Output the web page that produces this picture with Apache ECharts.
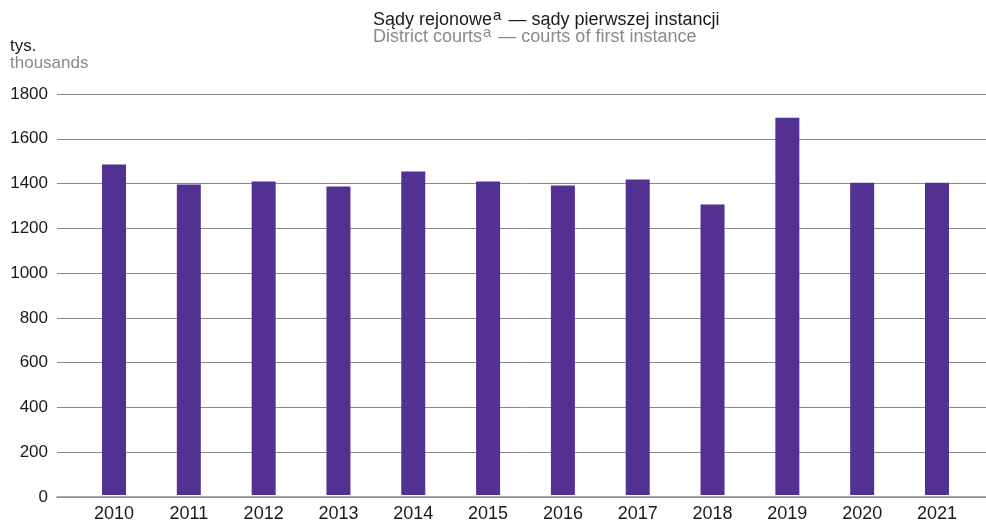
<!DOCTYPE html>
<html><head><meta charset="utf-8">
<script src="https://cdn.jsdelivr.net/npm/echarts@6/dist/echarts.min.js"></script>
<style>html,body{margin:0;padding:0;background:#fff}#c{width:986px;height:523px}</style>
</head><body><div id="c"></div>
<script>
const years = ['2010','2011','2012','2013','2014','2015','2016','2017','2018','2019','2020','2021'];
const cases = [1483, 1394, 1407, 1385, 1452, 1407, 1389, 1416, 1304, 1693, 1402, 1402];
const yMin = 0, yMax = 1800, yStep = 200;
const titlePl = 'Sądy rejonowe', titlePl2 = ' — sądy pierwszej instancji';
const titleEn = 'District courts', titleEn2 = ' — courts of first instance';
const unitPl = 'tys.', unitEn = 'thousands';

const FONT = '"Liberation Sans", Arial, sans-serif';
const chart = echarts.init(document.getElementById('c'), null, {renderer:'canvas'});
const gTop = 94, gBottom = 523 - 497;
const base = {fontFamily: FONT, fontWeight: 'normal'};
chart.setOption({
  animation: false,
  textStyle: {fontFamily: FONT},
  title: {
    left: 373, top: 12, padding: 0,
    text: '{t|' + titlePl + '}{s|a}{t|' + titlePl2 + '}\n{g|' + titleEn + '}{gs|a}{g|' + titleEn2 + '}',
    textStyle: {
      fontWeight: 'normal',
      rich: {
        t: Object.assign({fontSize: 18, color: '#1a1a1a', lineHeight: 17, verticalAlign:'bottom'}, base),
        s: Object.assign({fontSize: 15, color: '#1a1a1a', lineHeight: 15, verticalAlign: 'bottom', padding:[0,2,6,1]}, base),
        g: Object.assign({fontSize: 18, color: '#8a8a8a', lineHeight: 17, verticalAlign:'bottom'}, base),
        gs: Object.assign({fontSize: 15, color: '#8a8a8a', lineHeight: 15, verticalAlign: 'bottom', padding:[0,2,6,1]}, base)
      }
    }
  },
  graphic: [
    {type:'text', left: 10, top: 38, style:{text: unitPl, fontSize: 17, fill:'#1a1a1a', fontFamily: FONT}},
    {type:'text', left: 10, top: 55, style:{text: unitEn, fontSize: 17, fill:'#8a8a8a', fontFamily: FONT}}
  ],
  grid: [
    {left: 57, right: 0, top: gTop, bottom: gBottom, containLabel: false},
    {left: 76.6, right: 986 - 974.4, top: gTop, bottom: gBottom, containLabel: false}
  ],
  xAxis: [
    {type:'category', gridIndex: 0, data: years, z: 5,
      axisLine:{show:true, lineStyle:{color:'#8f8f8f', width:1.5}},
      axisTick:{show:false}, axisLabel:{show:false}, splitLine:{show:false}},
    {type:'category', gridIndex: 1, data: years,
      axisLine:{show:false}, axisTick:{show:false},
      axisLabel:{fontSize: 18, color:'#1a1a1a', margin: 10, fontFamily: FONT}}
  ],
  yAxis: [
    {type:'value', gridIndex: 0, min: yMin, max: yMax, interval: yStep,
      axisLine:{show:false}, axisTick:{show:false},
      axisLabel:{fontSize: 17, color:'#1a1a1a', margin: 9, fontFamily: FONT, formatter: v => String(v)},
      splitLine:{lineStyle:{color:'#8a8a8a', width:1}}},
    {type:'value', gridIndex: 1, min: yMin, max: yMax, interval: yStep, show: false, splitLine:{show:false}}
  ],
  series: [
    {type:'bar', xAxisIndex:1, yAxisIndex:1, data: cases, barWidth: 24,
      itemStyle:{color:'#523192'}, z: 3}
  ]
});
</script></body></html>
